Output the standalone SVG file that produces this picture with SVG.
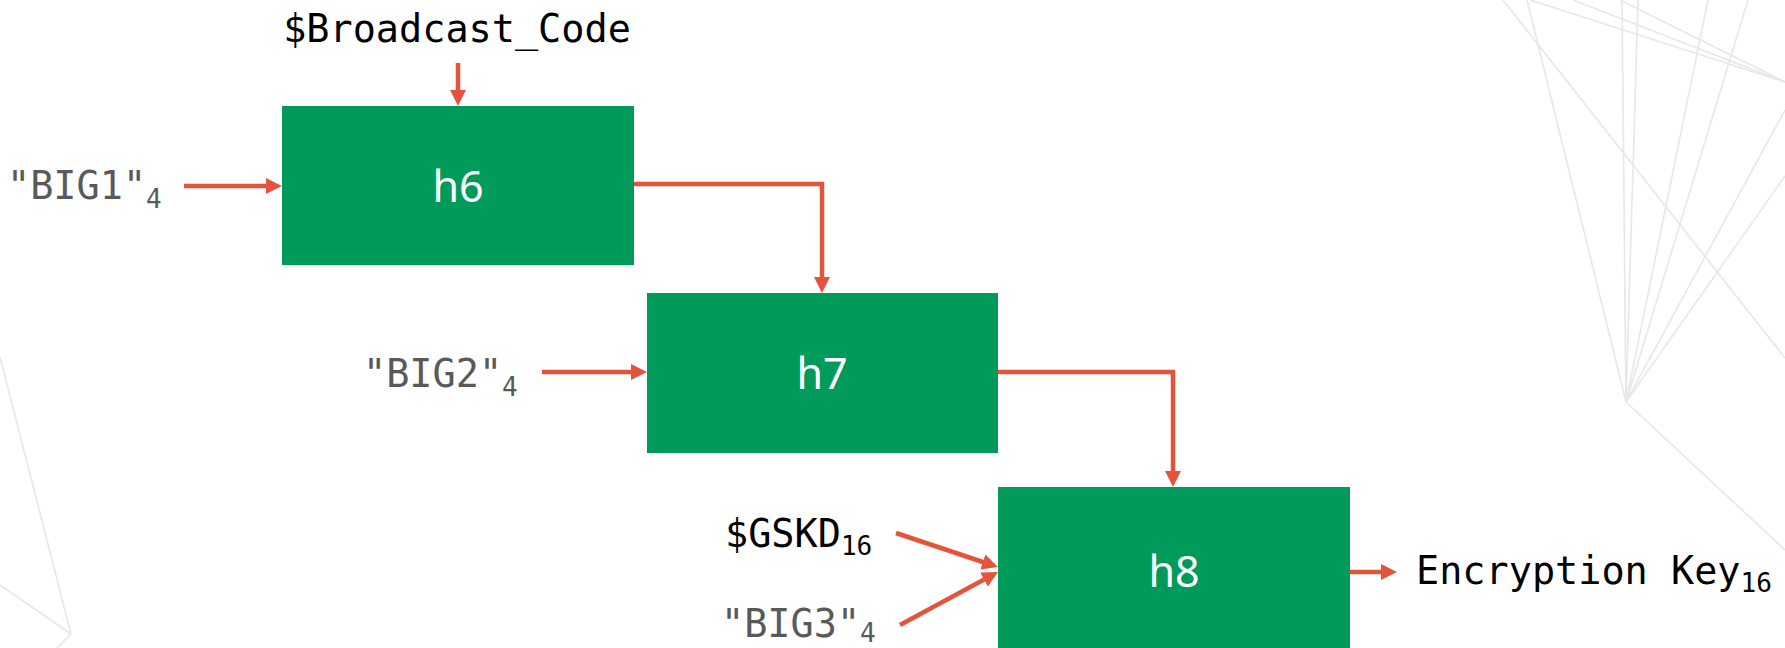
<svg xmlns="http://www.w3.org/2000/svg" width="1785" height="648" viewBox="0 0 1785 648">
  <style>
    .bg { stroke: #e8e8e8; stroke-width: 1.7; fill: none; }
    .box { fill: #009b5a; }
    .blabel { font-family: "Noto Sans", "Open Sans", sans-serif; font-size: 43px; fill: #ffffff; text-anchor: middle; }
    .mono { font-family: "DejaVu Sans Mono", "Liberation Mono", monospace; font-size: 38.5px; }
    .dark { fill: #000000; }
    .grey { fill: #595959; }
    .sub { font-size: 26px; }
    .wire { stroke: #e4533c; stroke-width: 4.5; fill: none; stroke-linejoin: miter; }
  </style>
  <defs>
    <marker id="head" markerUnits="userSpaceOnUse" markerWidth="16" markerHeight="16" refX="8" refY="8" orient="auto" viewBox="0 0 16 16">
      <path d="M0,0 L16,8 L0,16 z" fill="#e4533c"/>
    </marker>
  </defs>

  <rect width="1785" height="648" fill="#ffffff"/>

  <!-- decorative background strokes -->
  <g id="background">
    <line class="bg" x1="1503" y1="0" x2="1785" y2="358"/>
    <line class="bg" x1="1530" y1="0" x2="1785" y2="82"/>
    <line class="bg" x1="1573" y1="0" x2="1785" y2="82"/>
    <line class="bg" x1="1620" y1="0" x2="1785" y2="82"/>
    <line class="bg" x1="1527" y1="0" x2="1626" y2="402"/>
    <line class="bg" x1="1622" y1="0" x2="1626" y2="402"/>
    <line class="bg" x1="1638" y1="0" x2="1626" y2="402"/>
    <line class="bg" x1="1708" y1="0" x2="1626" y2="402"/>
    <line class="bg" x1="1748" y1="0" x2="1626" y2="402"/>
    <line class="bg" x1="1785" y1="110" x2="1626" y2="402"/>
    <line class="bg" x1="1785" y1="176" x2="1626" y2="402"/>
    <line class="bg" x1="1626" y1="402" x2="1785" y2="550"/>
    <line class="bg" x1="0" y1="357" x2="71" y2="634"/>
    <line class="bg" x1="0" y1="585" x2="71" y2="634"/>
    <line class="bg" x1="71" y1="634" x2="55" y2="650"/>
  </g>

  <!-- hash function blocks -->
  <g id="h6">
    <rect class="box" x="282" y="106" width="352" height="159"/>
    <text class="blabel" x="458" y="202">h6</text>
  </g>
  <g id="h7">
    <rect class="box" x="647" y="293" width="351" height="160"/>
    <text class="blabel" x="822" y="389">h7</text>
  </g>
  <g id="h8">
    <rect class="box" x="998" y="487" width="352" height="170"/>
    <text class="blabel" x="1174" y="587">h8</text>
  </g>

  <!-- inputs and output -->
  <g id="broadcast-code">
    <text class="mono dark" x="457" y="42" text-anchor="middle">$Broadcast_Code</text>
  </g>
  <g id="big1">
    <text class="mono grey" x="7" y="199">"BIG1"<tspan class="sub" dy="9">4</tspan></text>
  </g>
  <g id="big2">
    <text class="mono grey" x="363" y="387">"BIG2"<tspan class="sub" dy="9">4</tspan></text>
  </g>
  <g id="gskd">
    <text class="mono dark" x="725" y="547">$GSKD<tspan class="sub" dy="8">16</tspan></text>
  </g>
  <g id="big3">
    <text class="mono grey" x="721" y="637">"BIG3"<tspan class="sub" dy="5">4</tspan></text>
  </g>
  <g id="encryption-key">
    <text class="mono dark" x="1416" y="584">Encryption Key<tspan class="sub" dy="8">16</tspan></text>
  </g>

  <!-- connectors -->
  <g id="connectors">
    <path class="wire" d="M458,63 V98" marker-end="url(#head)"/>
    <path class="wire" d="M184,186 H274" marker-end="url(#head)"/>
    <path class="wire" d="M634,184 H822 V285" marker-end="url(#head)"/>
    <path class="wire" d="M542,372 H639" marker-end="url(#head)"/>
    <path class="wire" d="M998,372 H1173 V479" marker-end="url(#head)"/>
    <path class="wire" d="M896,533 L990.4,564.5" marker-end="url(#head)"/>
    <path class="wire" d="M900,625 L991,575.8" marker-end="url(#head)"/>
    <path class="wire" d="M1350,572 H1389" marker-end="url(#head)"/>
  </g>
</svg>
